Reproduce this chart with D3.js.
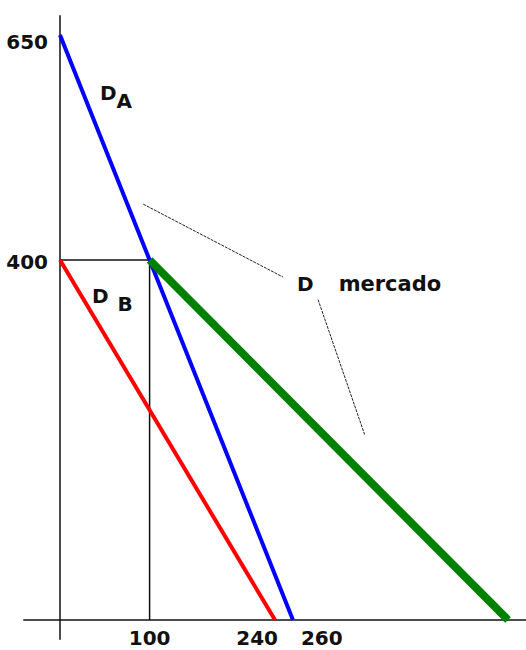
<!DOCTYPE html>
<html>
<head>
<meta charset="utf-8">
<script src="https://cdn.jsdelivr.net/npm/d3@7"></script>
<style>
  html, body { margin: 0; padding: 0; background: #fff; }
  svg { display: block; }
  text { font-family: "DejaVu Sans", sans-serif; font-weight: bold; fill: #111; }
</style>
</head>
<body>
<div id="chart"></div>
<script>
// demand curves (quantity, price)
const demandA = [{ q: 0, p: 650 }, { q: 260, p: 0 }];
const demandB = [{ q: 0, p: 400 }, { q: 240, p: 0 }];
const marketKink = [{ q: 100, p: 400 }, { q: 500, p: 0 }];
const yTickLabels = [650, 400];
const xTickLabels = [100, 240, 260];
// annotation pointers for "D mercado" (data units)
const pointerUp = [{ q: 93, p: 462 }, { q: 249, p: 381 }];
const pointerDown = [{ q: 288, p: 356 }, { q: 340, p: 206 }];

const W = 526, H = 650;
const svg = d3.select("#chart").append("svg")
  .attr("width", W).attr("height", H);

const x = d3.scaleLinear().domain([0, 500]).range([60, 508]);
const y = d3.scaleLinear().domain([0, 650]).range([620, 35]);

const line = d3.line().x(d => x(d.q)).y(d => y(d.p));

// axes
svg.append("line")
  .attr("x1", x(0)).attr("x2", x(0))
  .attr("y1", y(672)).attr("y2", y(-22))
  .attr("stroke", "#111").attr("stroke-width", 1.5);
svg.append("line")
  .attr("x1", x(-41)).attr("x2", W)
  .attr("y1", y(0)).attr("y2", y(0))
  .attr("stroke", "#111").attr("stroke-width", 1.5);

// guide at P=400, Q=100
const kink = marketKink[0];
svg.append("path")
  .attr("d", line([{ q: 0, p: kink.p }, kink, { q: kink.q, p: 0 }]))
  .attr("fill", "none").attr("stroke", "#111").attr("stroke-width", 1.5);

// demand lines
svg.append("path").attr("d", line(demandB))
  .attr("fill", "none").attr("stroke", "#ff0000").attr("stroke-width", 4);
svg.append("path").attr("d", line(demandA))
  .attr("fill", "none").attr("stroke", "#0000ff").attr("stroke-width", 4);
svg.append("path").attr("d", line(marketKink))
  .attr("fill", "none").attr("stroke", "#008000").attr("stroke-width", 8);

// pointers
[pointerUp, pointerDown].forEach(p => {
  svg.append("path").attr("d", line(p))
    .attr("fill", "none").attr("stroke", "#222")
    .attr("stroke-width", 1).attr("stroke-dasharray", "3,1");
});

// tick labels
const yShift = { 650: 14, 400: 9 };
svg.selectAll(".ylab").data(yTickLabels).enter().append("text")
  .attr("x", x(0) - 12).attr("y", d => y(d) + yShift[d])
  .attr("text-anchor", "end").attr("font-size", 20)
  .text(d => d);

const xAnchor = { 100: "middle", 240: "end", 260: "start" };
const xShift = { 100: 0, 240: 3, 260: 8 };
svg.selectAll(".xlab").data(xTickLabels).enter().append("text")
  .attr("x", d => x(d) + xShift[d]).attr("y", y(0) + 25)
  .attr("text-anchor", d => xAnchor[d]).attr("font-size", 20)
  .text(d => d);

// curve labels
function label(q, p, main, sub, subDx) {
  const t = svg.append("text").attr("x", x(q)).attr("y", y(p)).attr("font-size", 20);
  t.append("tspan").text(main);
  if (sub) t.append("tspan").attr("dx", subDx).attr("dy", 8).text(sub);
}
label(44.6, 578, "D", "A", 0);
label(35.7, 352, "D", "B", 9);
label(264.5, 366, "D", null);
svg.append("text").attr("x", x(311)).attr("y", y(366))
  .attr("font-size", 21).text("mercado");
</script>
</body>
</html>
